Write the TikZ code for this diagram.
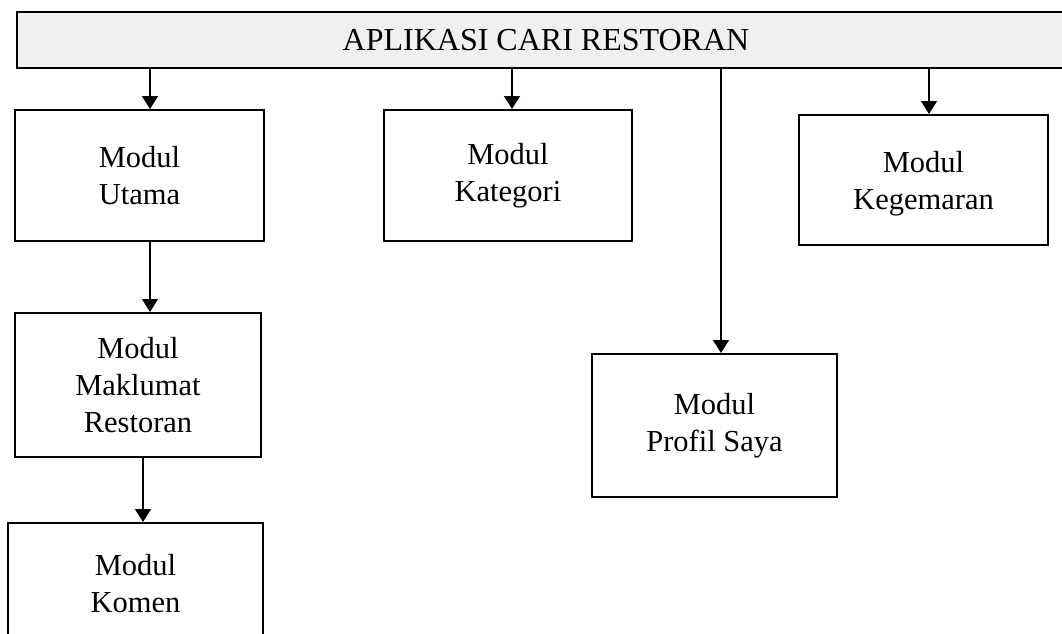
\documentclass[tikz,border=0pt]{standalone}
\usepackage{fontspec}
\setmainfont{Liberation Serif}
\usetikzlibrary{arrows.meta}
\definecolor{barfill}{RGB}{240,240,240}
\begin{document}
\begin{tikzpicture}[x=1pt,y=-1pt,
  box/.style={draw, line width=2pt, align=center, inner sep=0pt,
    font=\fontsize{30.5}{37}\selectfont},
  arr/.style={line width=1.4pt, -{Triangle[width=16pt,length=13pt]}}]
\useasboundingbox (0,0) rectangle (1062,633);
\begin{scope}
\clip (0,0) rectangle (1062,633);
\node[box, fill=barfill, minimum width=1058pt, minimum height=56pt, font=\fontsize{32}{37}\selectfont] (bar) at (546,40) {APLIKASI CARI RESTORAN};
\node[box, minimum width=249pt, minimum height=131pt] (utama) at (139.5,175.5) {Modul\\Utama};
\node[box, minimum width=248pt, minimum height=131pt] (kategori) at (508,175.5) {Modul\\Kategori};
\node[box, minimum width=249pt, minimum height=130pt] (kegemaran) at (923.5,180) {\rule{0pt}{8pt}\\[-16pt]Modul\\Kegemaran};
\node[box, minimum width=246pt, minimum height=144pt] (maklumat) at (138,385) {Modul\\Maklumat\\Restoran};
\node[box, minimum width=255pt, minimum height=122pt] (komen) at (135.5,584) {Modul\\Komen};
\node[box, minimum width=245pt, minimum height=143pt] (profil) at (714.5,425.5) {Modul\\Profil Saya};
\end{scope}
\coordinate (xa) at (150,0);
\coordinate (xb) at (512,0);
\coordinate (xc) at (929,0);
\coordinate (xd) at (721,0);
\coordinate (xe) at (143,0);
\draw[arr] (bar.south -| xa) -- (utama.north -| xa);
\draw[arr] (bar.south -| xb) -- (kategori.north -| xb);
\draw[arr] (bar.south -| xc) -- (kegemaran.north -| xc);
\draw[arr] (bar.south -| xd) -- (profil.north -| xd);
\draw[arr] (utama.south -| xa) -- (maklumat.north -| xa);
\draw[arr] (maklumat.south -| xe) -- (komen.north -| xe);
\end{tikzpicture}
\end{document}
